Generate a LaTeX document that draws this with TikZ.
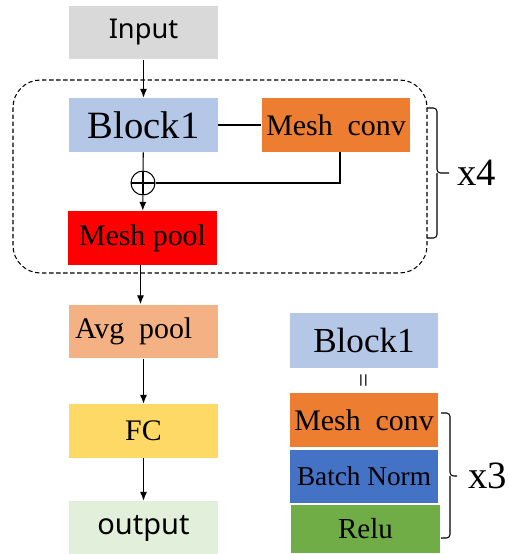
\documentclass[tikz,border=0pt]{standalone}
\usepackage{fontspec}
\setmainfont{Liberation Serif}
\newfontfamily\yahei{Noto Sans}
\usetikzlibrary{arrows.meta}

\definecolor{inputgray}{HTML}{D9D9D9}
\definecolor{blockblue}{HTML}{B4C7E7}
\definecolor{convorange}{HTML}{ED7D31}
\definecolor{poolred}{HTML}{FF0000}
\definecolor{avgsalmon}{HTML}{F4B183}
\definecolor{fcyellow}{HTML}{FFD966}
\definecolor{outgreen}{HTML}{E2EFDA}
\definecolor{normblue}{HTML}{4472C4}
\definecolor{relugreen}{HTML}{70AD47}

\begin{document}
\begin{tikzpicture}[x=0.02cm,y=-0.02cm,
    box/.style={minimum width=2.98cm, minimum height=1.08cm, inner sep=0pt,
        font=\fontsize{17}{20}\selectfont},
    conn/.style={line width=0.6pt, -{Latex[length=5pt,width=4pt]}},
    wire/.style={line width=0.6pt},
    brace/.style={line width=0.6pt, rounded corners=2pt}]

        \useasboundingbox (0,0) rectangle (508,554);

        % main column
        \node[box, fill=inputgray, font=\yahei\fontsize{15.5}{19}\selectfont] (input) at (143.5,32.5) {Input};
        \node[box, fill=blockblue, font=\fontsize{22}{26}\selectfont] (block) at (143.5,125) {Block1};
        \node[box, fill=convorange] (conv) at (336,125) {Mesh\ \ conv};
        \node[circle, draw, line width=0.6pt, minimum size=0.48cm, inner sep=0pt,
            path picture={\draw[line width=0.6pt] (path picture bounding box.north) -- (path picture bounding box.south)
                (path picture bounding box.west) -- (path picture bounding box.east);}] (add) at (143,183) {};
        \node[box, fill=poolred] (meshpool) at (142.5,238) {Mesh pool};
        \node[box, fill=avgsalmon] (avgpool) at (143.5,331.5) {\makebox[2.98cm][l]{\hspace{0.12cm}Avg\ \ pool}};
        \node[box, fill=fcyellow] (fc) at (143.5,431) {FC};
        \node[box, fill=outgreen, font=\yahei\fontsize{16.5}{20}\selectfont] (output) at (143.5,528) {output};

        % repeated part
        \draw[line width=0.6pt, dash pattern=on 2.5pt off 1.5pt, rounded corners=0.55cm]
            (13,80) rectangle (427,273);
        \draw[brace] (427,108) -- (437,108) -- (437,173) -- (449,173);
        \draw[brace] (437,173) -- (437,238) -- (427,238);
        \node[anchor=west, font=\fontsize{22}{26}\selectfont, inner sep=0pt] (rep4) at (457,173) {x4};

        \draw[conn] (input) -- (block);
        \draw[wire] (block) -- (conv);
        \draw[wire] (block) -- (add);
        \draw[wire] (conv.south -| 340,0) |- (add);
        \draw[conn] (add) -- (meshpool);
        \draw[conn] (meshpool.south -| 140.5,0) -- (avgpool.north -| 140.5,0);
        \draw[conn] (avgpool) -- (fc);
        \draw[conn] (fc) -- (output);

        % Block1 definition
        \node[box, fill=blockblue, minimum height=1.1cm, font=\fontsize{20}{24}\selectfont] (blockdef) at (364,340.5) {Block1};
        \node[rotate=90, font=\fontsize{14}{16}\selectfont, inner sep=0pt] (eq) at (366,381) {=};
        \node[box, fill=convorange, font=\fontsize{17}{20}\selectfont] (conv2) at (364,420) {Mesh\ \ conv};
        \node[box, fill=normblue, minimum height=1.06cm, font=\fontsize{15.5}{18}\selectfont] (norm) at (364,476.5) {Batch Norm};
        \node[box, fill=relugreen, minimum height=0.96cm, font=\fontsize{16.5}{19}\selectfont] (relu) at (365.5,529) {Relu};

        \draw[brace] (441,413) -- (450,413) -- (450,476) -- (457,476);
        \draw[brace] (450,476) -- (450,538) -- (441,538);
        \node[anchor=west, font=\fontsize{22}{26}\selectfont, inner sep=0pt] (rep3) at (468,476) {x3};

    \end{tikzpicture}
\end{document}
